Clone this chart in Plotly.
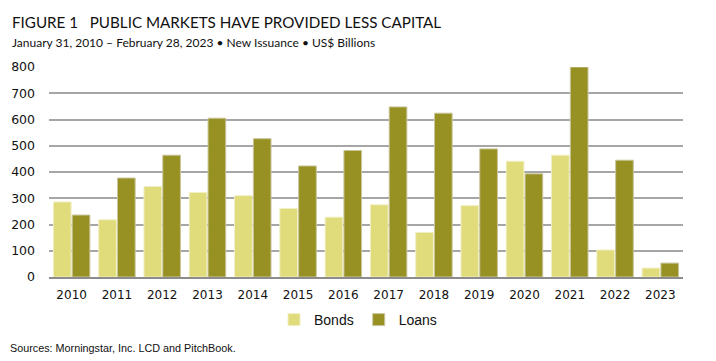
import plotly.graph_objects as go

years = ["2010", "2011", "2012", "2013", "2014", "2015", "2016",
         "2017", "2018", "2019", "2020", "2021", "2022", "2023"]
bonds = [286, 218, 345, 322, 310, 261, 228, 275, 170, 272, 441, 464, 103, 34]
loans = [236, 377, 464, 605, 527, 423, 482, 648, 624, 488, 393, 800, 445, 53]

BOND_COLOR = "#e0dc7c"
LOAN_COLOR = "#979124"

W, H = 716, 361
ML, MR, MT, MB = 49, 33, 67, 84
PW, PH = W - ML - MR, H - MT - MB


def px(x):
    return (x - ML) / PW


def py(y_from_top):
    return (H - y_from_top - MB) / PH


fig = go.Figure()
fig.add_trace(go.Bar(x=years, y=bonds, name="Bonds",
                     marker=dict(color=BOND_COLOR, line=dict(color="#f1efc4", width=1))))
fig.add_trace(go.Bar(x=years, y=loans, name="Loans",
                     marker=dict(color=LOAN_COLOR, line=dict(color="#c9c69c", width=1))))

fig.update_layout(
    width=W, height=H,
    margin=dict(l=ML, r=MR, t=MT, b=MB),
    paper_bgcolor="white", plot_bgcolor="white",
    barmode="group", bargap=0.17, bargroupgap=0.06,
    font=dict(family="DejaVu Sans", color="#111111", size=12),
    showlegend=True,
    legend=dict(orientation="h", x=px(358), xanchor="center", y=py(320), yanchor="middle",
                font=dict(family="Liberation Sans", size=14, color="#111111"),
                itemwidth=30, traceorder="normal"),
    annotations=[
        dict(text="FIGURE 1   PUBLIC MARKETS HAVE PROVIDED LESS CAPITAL", x=px(10), y=py(22),
             xref="paper", yref="paper", showarrow=False, xanchor="left", yanchor="middle",
             font=dict(family="Lato", size=15.2, color="#111111")),
        dict(text="January 31, 2010 – February 28, 2023 • New Issuance • US$ Billions", x=px(10), y=py(43),
             xref="paper", yref="paper", showarrow=False, xanchor="left", yanchor="middle",
             font=dict(family="Lato", size=12, color="#111111")),
        dict(text="Sources: Morningstar, Inc. LCD and PitchBook.", x=px(8), y=py(348),
             xref="paper", yref="paper", showarrow=False, xanchor="left", yanchor="middle",
             font=dict(family="Liberation Sans", size=10.8, color="#111111")),
    ],
)

fig.update_xaxes(showgrid=False, showline=True, linecolor="#8c8c8c", linewidth=1.5,
                 ticks="", ticklabelstandoff=6, tickfont=dict(size=12))
fig.update_yaxes(range=[0, 800], dtick=100, showgrid=True, gridcolor="#a6a6a6", gridwidth=1.5,
                 zeroline=False, showline=False, ticks="", ticklabelstandoff=13,
                 tickfont=dict(size=12.5))

fig.write_html("out.html", config={"displayModeBar": False},
               post_script="document.body.style.margin='0';")
